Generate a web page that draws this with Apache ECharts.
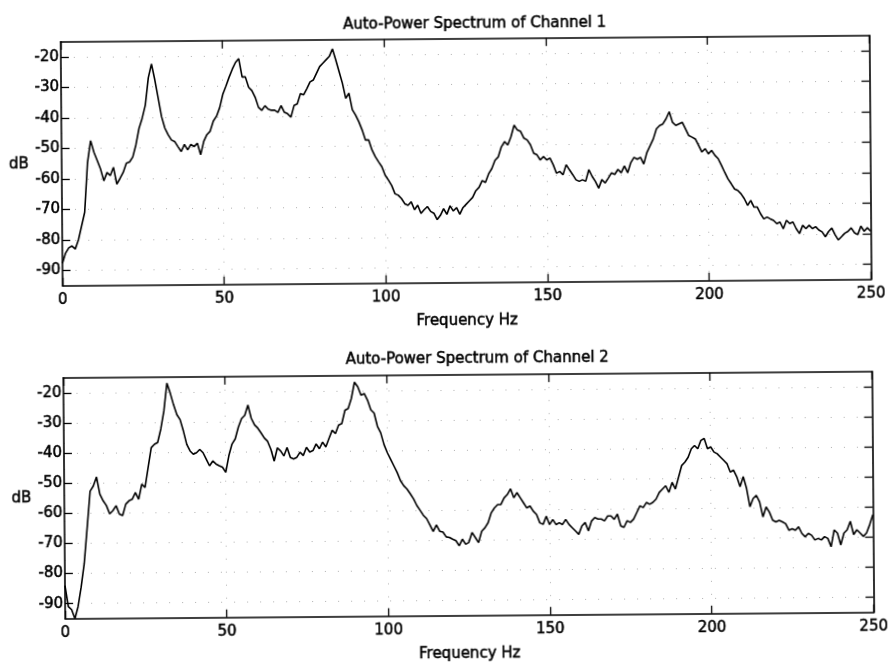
<!DOCTYPE html>
<html>
<head>
<meta charset="utf-8">
<script src="https://cdn.jsdelivr.net/npm/echarts@6/dist/echarts.min.js"></script>
<style>
  html, body { margin: 0; padding: 0; background: #fff; }
  #chart { width: 889px; height: 663px; transform: rotate(-0.45deg); }
</style>
</head>
<body>
<div id="chart"></div>
<script>
// ---- data (1 Hz resolution, values in dB) ----
const freqStartHz = 0;
const freqStepHz = 1;

const channel1Db = [
  -87.6,-84.3,-82.6,-82,-83,-80,-75.5,-71,-54.6,-47.5,
  -51.3,-54,-56.8,-60.7,-58,-59,-56.3,-61.8,-60,-58,
  -55,-54.6,-53,-49,-43.6,-40.3,-36,-27,-22.5,-27.7,
  -33.7,-39.8,-43.6,-45.8,-47.5,-48,-49.7,-51.3,-49,-50.8,
  -49,-49.7,-48.6,-52.4,-48,-45.8,-44.7,-41.4,-39.8,-37,
  -32.6,-29.9,-27,-24.4,-22.2,-21,-27,-27,-30.4,-31.5,
  -33.7,-37,-38,-36.5,-37.6,-38,-38,-38.7,-36.5,-38.7,
  -39.2,-40.3,-36.5,-36,-32.6,-33,-31,-28.8,-28.2,-26,
  -23.8,-22.7,-21.6,-20.5,-18,-21.6,-25.5,-29.3,-34.3,-32.6,
  -38,-39.8,-42,-44.7,-48,-48,-51.3,-53.5,-55.2,-56.8,
  -59.6,-61.2,-63,-65.7,-66.2,-67.3,-69,-69.5,-68.4,-71,
  -69.5,-72.2,-71,-70,-71.6,-72.2,-74.3,-72.9,-70.7,-72.6,
  -69.8,-71.5,-70.4,-72.6,-70.4,-69.3,-68.2,-67.1,-64.9,-63.8,
  -61.6,-62.2,-59.4,-57.7,-55,-53.9,-50.6,-48.9,-50,-47.3,
  -43.5,-45.1,-45.6,-47.8,-48.4,-50,-52.8,-53.3,-55,-53.9,
  -55,-54.4,-56.6,-59.4,-58.8,-59.9,-56.6,-58.3,-59.9,-61.6,
  -62.1,-61.6,-62.1,-58.3,-60.5,-62.2,-64.4,-61.6,-62.7,-61.1,
  -59.4,-59.9,-58.3,-59.4,-57.2,-59.4,-56.1,-54.4,-55,-54.4,
  -56.6,-52.8,-50.6,-48.4,-45.1,-44,-43.5,-41.8,-39.5,-43,
  -44,-43.5,-43,-45.2,-47.4,-47.9,-48.5,-50.6,-52.8,-51.7,
  -53.4,-52.3,-53.9,-55,-57.2,-59.5,-61.7,-63.3,-65,-65.5,
  -66.6,-68.2,-70.4,-68.8,-71,-71,-73.2,-74.9,-74.3,-74.9,
  -75.4,-76.5,-76,-78.2,-75.4,-76.5,-76,-78.2,-79.8,-77.1,
  -78.2,-77.1,-78.2,-77.6,-78.7,-79.3,-80.9,-79.2,-78.1,-80.3,
  -82,-80.9,-79.8,-79.2,-78.1,-79.7,-80.3,-77.5,-79.2,-78.1,-79.2
];

const channel2Db = [
  -84,-91,-92,-95,-91,-84.5,-76.8,-64.8,-52.7,-51,
  -48,-53.7,-55.9,-57.5,-60.3,-59.2,-57.6,-60.4,-60.9,-57.1,
  -56,-55.5,-53.3,-55.5,-50.5,-51.6,-45,-38.4,-37.3,-36.7,
  -32.3,-26.3,-17,-20.3,-24.2,-27.5,-29.2,-33,-37.4,-39.6,
  -40.7,-40.2,-39.1,-40.2,-42.4,-44.6,-43,-44,-44.6,-45.1,
  -46.8,-41.2,-37.4,-35.7,-31.8,-29,-27.9,-24.5,-28.9,-31.1,
  -32.2,-33.8,-35.5,-36.6,-39.3,-43.2,-38.8,-39.8,-41.5,-38.7,
  -42,-42.5,-42,-40.3,-41.4,-38.7,-40.3,-39.8,-37.6,-39.2,
  -37,-38.6,-35.8,-33.1,-34.2,-31.4,-30.9,-26.5,-25.9,-22.6,
  -17.2,-18.7,-21.5,-21,-23.2,-26.4,-27.5,-31.9,-34.1,-38,
  -40.7,-42.9,-45.1,-47.3,-50,-51.7,-52.8,-54.4,-56.1,-58.3,
  -59.9,-61.6,-62.7,-64.8,-67,-64.8,-66.9,-67.2,-68.8,-69,
  -69.6,-70.1,-71.8,-69.6,-71.3,-70.7,-67.4,-69.1,-70.8,-67,
  -65.9,-64.2,-60.9,-59.3,-58.2,-58.2,-56,-54.9,-53,-56,
  -54.3,-56,-57.7,-59.4,-58.8,-60.5,-61.6,-64.4,-64.9,-62.2,
  -65,-63.3,-65,-64.4,-65,-63.3,-65,-66.1,-67.2,-68.3,
  -65.5,-64.4,-67.2,-63.9,-62.8,-63.3,-63.3,-63.9,-62.3,-62.3,
  -63.4,-61.7,-65.6,-66.1,-63.9,-64.5,-63.4,-61.2,-59,-59.6,
  -57.9,-58.5,-57.9,-56.8,-54.6,-53.5,-52.4,-54.6,-51.3,-53.5,
  -49.6,-45.7,-44.6,-43,-40.2,-39.1,-40.2,-37.4,-36.8,-40.2,
  -39.6,-41.3,-41.9,-43,-44.1,-45.2,-48,-47.4,-49.6,-52.9,
  -49.6,-53.5,-59.6,-56.9,-55.8,-58,-63,-59.7,-61.4,-64.1,
  -64.7,-64.2,-64.7,-65.3,-67.5,-67,-67.5,-66.4,-68.6,-69.7,
  -68.6,-69.2,-70.8,-70.3,-70.8,-69.7,-70.3,-73.1,-67.5,-68.6,
  -72.5,-68.6,-67.5,-64.7,-69.1,-67.5,-68.6,-69.7,-68.6,-65.8,-62.5
];

const xTicksHz = [0, 50, 100, 150, 200, 250];
const yTicksDb = [-90, -80, -70, -60, -50, -40, -30, -20];
const xRange = [0, 250];
const yRange = [-95, -15];
const titles = ['Auto-Power Spectrum of Channel 1', 'Auto-Power Spectrum of Channel 2'];
const xName = 'Frequency Hz';
const yName = 'dB';

// ---- chart ----
const FONT = 'DejaVu Sans';
const BLACK = '#000';
const TEXT = { color: BLACK, fontFamily: FONT, fontSize: 15, textBorderColor: BLACK, textBorderWidth: 0.5 };

function toPairs(values) {
  return values.map((v, i) => [freqStartHz + i * freqStepHz, v]);
}

const grids = [
  { left: 63, right: 15, top: 38.8, height: 243.9 },
  { left: 63, right: 15, top: 374.9, height: 242.4 }
];

const gridLine = { show: true, lineStyle: { color: '#b0b0b0', width: 1, type: [1, 12] } };

const xAxes = [];
const yAxes = [];
grids.forEach((g, gi) => {
  const common = {
    type: 'value', gridIndex: gi, min: xRange[0], max: xRange[1], interval: 50,
    axisLine: { show: true, onZero: false, lineStyle: { color: BLACK, width: 1.6 } },
    axisTick: { show: true, inside: true, length: 8, customValues: xTicksHz, lineStyle: { color: BLACK, width: 1.3 } }
  };
  xAxes.push(Object.assign({}, common, {
    position: 'bottom',
    axisLabel: Object.assign({ show: true, margin: 7, customValues: xTicksHz }, TEXT),
    name: xName, nameLocation: 'middle', nameGap: 31,
    nameTextStyle: Object.assign({}, TEXT),
    splitLine: gridLine
  }));
  xAxes.push(Object.assign({}, common, {
    position: 'top',
    axisLabel: { show: false },
    splitLine: { show: false }
  }));
  const ycommon = {
    type: 'value', gridIndex: gi, min: yRange[0], max: yRange[1],
    axisLine: { show: true, onZero: false, lineStyle: { color: BLACK, width: 1.6 } },
    axisTick: { show: true, inside: true, length: 8, customValues: yTicksDb, lineStyle: { color: BLACK, width: 1.3 } }
  };
  yAxes.push(Object.assign({}, ycommon, {
    position: 'left',
    axisLabel: Object.assign({ show: true, margin: 2, customValues: yTicksDb }, TEXT),
    name: yName, nameLocation: 'middle', nameRotate: 0, nameGap: 31,
    nameTextStyle: Object.assign({ padding: [0, 0, 16, 0] }, TEXT),
    splitLine: gridLine
  }));
  yAxes.push(Object.assign({}, ycommon, {
    position: 'right',
    axisLabel: { show: false },
    splitLine: { show: false }
  }));
});

const option = {
  animation: false,
  backgroundColor: '#fff',
  title: [
    { text: titles[0], left: 477, top: 17, textAlign: 'center', padding: 0,
      textStyle: Object.assign({ fontWeight: 'normal' }, TEXT) },
    { text: titles[1], left: 477, top: 352, textAlign: 'center', padding: 0,
      textStyle: Object.assign({ fontWeight: 'normal' }, TEXT) }
  ],
  grid: grids,
  xAxis: xAxes,
  yAxis: yAxes,
  series: [
    { name: titles[0], type: 'line', xAxisIndex: 0, yAxisIndex: 0, data: toPairs(channel1Db),
      showSymbol: false, symbol: 'none', clip: true, lineStyle: { color: BLACK, width: 1.6 } },
    { name: titles[1], type: 'line', xAxisIndex: 2, yAxisIndex: 2, data: toPairs(channel2Db),
      showSymbol: false, symbol: 'none', clip: true, lineStyle: { color: BLACK, width: 1.6 } }
  ]
};

const chart = echarts.init(document.getElementById('chart'), null, { renderer: 'canvas' });
chart.setOption(option);
</script>
</body>
</html>
